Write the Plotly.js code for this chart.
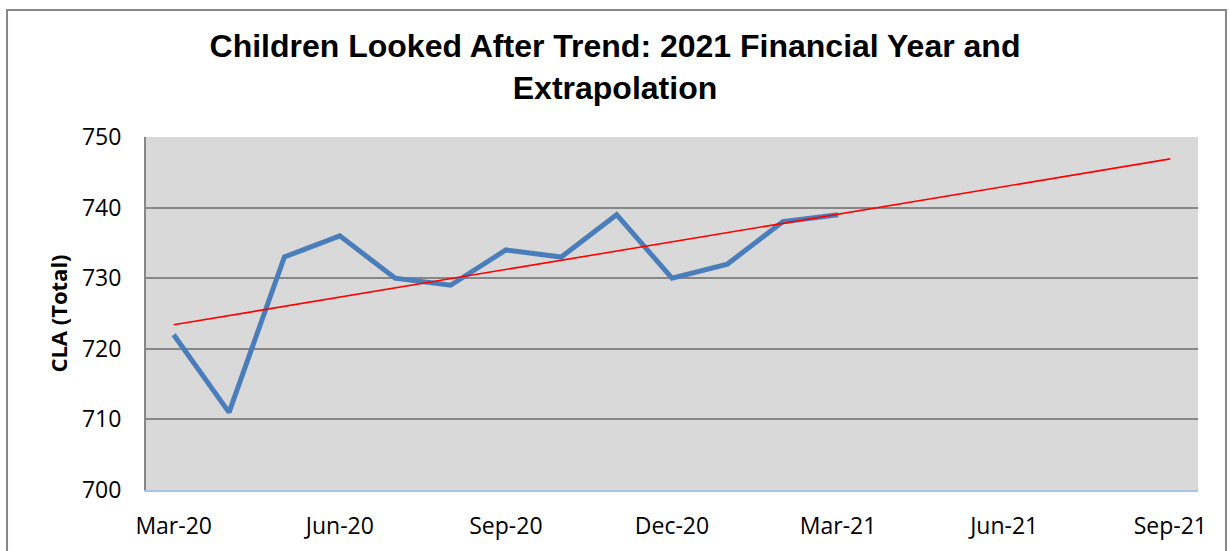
<!DOCTYPE html>
<html>
<head>
<meta charset="utf-8">
<script src="https://cdn.plot.ly/plotly-3.0.1.min.js"></script>
<style>
html,body{margin:0;padding:0;background:#fff;}
#chart{width:1230px;height:551px;}
</style>
</head>
<body>
<div id="chart"></div>
<script>
var months = ["Mar-20","Apr-20","May-20","Jun-20","Jul-20","Aug-20","Sep-20","Oct-20","Nov-20","Dec-20","Jan-21","Feb-21","Mar-21","Apr-21","May-21","Jun-21","Jul-21","Aug-21","Sep-21"];
var claMonths = ["Mar-20","Apr-20","May-20","Jun-20","Jul-20","Aug-20","Sep-20","Oct-20","Nov-20","Dec-20","Jan-21","Feb-21","Mar-21"];
var claValues = [722,711,733,736,730,729,734,733,739,730,732,738,739];
var trendMonths = ["Mar-20","Sep-21"];
var trendValues = [723.4,746.9];
var tickLabels = ["Mar-20","Jun-20","Sep-20","Dec-20","Mar-21","Jun-21","Sep-21"];
var yTicks = [700,710,720,730,740,750];

var tickFont = {family:"Open Sans, Noto Sans, sans-serif", size:23, color:"#000"};

var traces = [
  {x:claMonths, y:claValues, type:"scatter", mode:"lines", name:"CLA (Total)",
   line:{color:"#4a7ebb", width:5}, hoverinfo:"x+y"},
  {x:trendMonths, y:trendValues, type:"scatter", mode:"lines", name:"Trend",
   line:{color:"#ff0000", width:1.6}, hoverinfo:"x+y"}
];

var layout = {
  width:1230, height:551,
  margin:{l:146, r:32, t:137, b:61},
  paper_bgcolor:"#ffffff",
  plot_bgcolor:"#d9d9d9",
  showlegend:false,
  title:{text:"Children Looked After Trend: 2021 Financial Year and<br>Extrapolation",
         font:{family:"Liberation Sans, Arial, sans-serif", size:32, color:"#000", weight:"bold"},
         x:0.5, xref:"container", xanchor:"center", y:0.896, yref:"container", yanchor:"top"},
  xaxis:{type:"category", categoryorder:"array", categoryarray:months,
         range:[-0.5, months.length-0.5],
         tickmode:"array", tickvals:tickLabels, ticktext:tickLabels,
         tickfont:tickFont, showgrid:false, zeroline:false,
         showline:true, linecolor:"#a9c4eb", linewidth:2,
         ticks:"outside", ticklen:14, tickcolor:"rgba(0,0,0,0)"},
  yaxis:{range:[700,750], tickmode:"array", tickvals:yTicks, ticktext:yTicks.map(String),
         tickfont:tickFont, showgrid:true, gridcolor:"#878787", gridwidth:2,
         zeroline:false, showline:true, linecolor:"#878787", linewidth:2,
         ticks:"outside", ticklen:18, tickcolor:"rgba(0,0,0,0)",
         title:{text:"CLA (Total)", standoff:8,
                font:{family:"Open Sans, Noto Sans, sans-serif", size:22, color:"#000", weight:"bold"}}},
  shapes:[
    {type:"rect", xref:"paper", yref:"paper", x0:-0.1321, x1:1.0266, y0:-0.25, y1:1.3598,
     line:{color:"#878787", width:2}, fillcolor:"rgba(0,0,0,0)", layer:"below"}
  ]
};

Plotly.newPlot("chart", traces, layout, {displayModeBar:false, staticPlot:true});
</script>
</body>
</html>
